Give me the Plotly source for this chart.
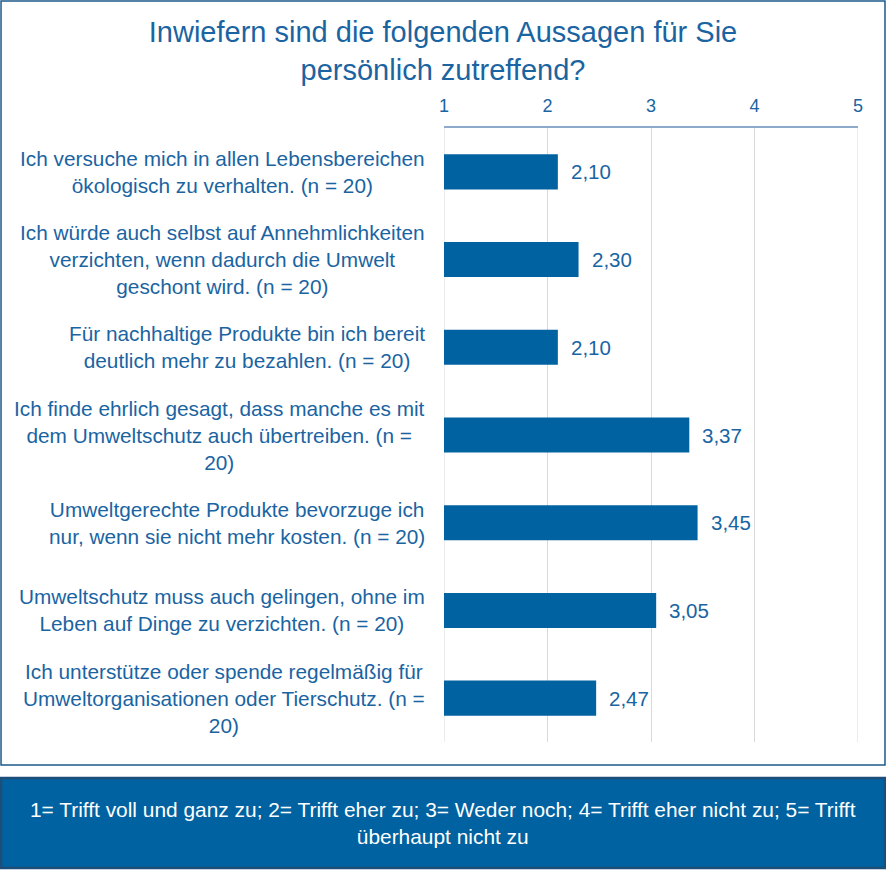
import plotly.graph_objects as go

categories = [
    "Ich versuche mich in allen Lebensbereichen<br>ökologisch zu verhalten. (n = 20)",
    "Ich würde auch selbst auf Annehmlichkeiten<br>verzichten, wenn dadurch die Umwelt<br>geschont wird. (n = 20)",
    "Für nachhaltige Produkte bin ich bereit<br>deutlich mehr zu bezahlen. (n = 20)",
    "Ich finde ehrlich gesagt, dass manche es mit<br>dem Umweltschutz auch übertreiben. (n =<br>20)",
    "Umweltgerechte Produkte bevorzuge ich<br>nur, wenn sie nicht mehr kosten. (n = 20)",
    "Umweltschutz muss auch gelingen, ohne im<br>Leben auf Dinge zu verzichten. (n = 20)",
    "Ich unterstütze oder spende regelmäßig für<br>Umweltorganisationen oder Tierschutz. (n =<br>20)",
]
values = [2.10, 2.30, 2.10, 3.37, 3.45, 3.05, 2.47]
tick_values = [1, 2, 3, 4, 5]
title_text = "Inwiefern sind die folgenden Aussagen für Sie<br>persönlich zutreffend?"
legend_text = ("1= Trifft voll und ganz zu; 2= Trifft eher zu; 3= Weder noch; "
               "4= Trifft eher nicht zu; 5= Trifft<br>überhaupt nicht zu")

BAR = "#0062a0"
TXT = "#1a64a2"
GRID = "#d9d9d9"
FONT = "Liberation Sans, Arial, sans-serif"

ids = [f"c{i}" for i in range(len(categories))]

fig = go.Figure()
fig.add_trace(go.Bar(
    x=values, y=ids, orientation="h",
    marker=dict(color=BAR, line=dict(width=0)),
    hoverinfo="skip",
))

annotations = []
for cid, lab, v in zip(ids, categories, values):
    annotations.append(dict(
        x=0, xref="paper", y=cid, yref="y", xanchor="right", yanchor="middle",
        xshift=-17, text=lab, showarrow=False, align="center",
        font=dict(family=FONT, size=20.8, color=TXT),
    ))
    annotations.append(dict(
        x=v, xref="x", y=cid, yref="y", xanchor="left", yanchor="middle",
        xshift=11, text=f"{v:.2f}".replace(".", ","), showarrow=False,
        font=dict(family=FONT, size=20.5, color=TXT),
    ))

annotations.append(dict(
    x=-0.0024, xref="paper", y=-0.1319, yref="paper", xanchor="center", yanchor="middle",
    text=legend_text, showarrow=False, align="center",
    font=dict(family=FONT, size=20.9, color="white"),
))

shapes = [
    dict(type="rect", xref="paper", yref="paper", x0=-1.0700, x1=1.0652,
         y0=-0.0375, y1=1.2068, line=dict(color="#1d5a8a", width=1.5),
         fillcolor="rgba(0,0,0,0)", layer="below"),
    dict(type="rect", xref="paper", yref="paper", x0=-1.0700, x1=1.0652,
         y0=-0.2052, y1=-0.0586, line=dict(color="#1d4e7a", width=2.5),
         fillcolor=BAR, layer="below"),
]
# edge gridlines (plotly omits gridlines at range ends)
for xv in (tick_values[0], tick_values[-1]):
    shapes.append(dict(type="line", xref="x", yref="paper", x0=xv, x1=xv,
                       y0=0, y1=1, line=dict(color=GRID, width=1), layer="below"))

fig.update_layout(
    width=886, height=870,
    margin=dict(l=444, r=28, t=128, b=128),
    paper_bgcolor="white", plot_bgcolor="white",
    showlegend=False,
    bargap=0.6,
    title=dict(text=title_text, x=0.5, xref="container", xanchor="center",
               y=1 - 42 / 870, yref="container", yanchor="middle",
               font=dict(family=FONT, size=29, color=TXT)),
    xaxis=dict(range=[1, 5], side="top", tickvals=tick_values,
               showgrid=True, gridcolor=GRID, gridwidth=1,
               showline=True, linecolor="#8eaacb", linewidth=1.5, mirror=False,
               zeroline=False, ticks="", ticklabelstandoff=7,
               tickfont=dict(family=FONT, size=18, color=TXT), fixedrange=True),
    yaxis=dict(categoryorder="array", categoryarray=ids, autorange="reversed",
               showticklabels=False, showgrid=False, showline=False,
               zeroline=False, ticks="", fixedrange=True),
    annotations=annotations,
    shapes=shapes,
)

fig.write_html("out.html")
